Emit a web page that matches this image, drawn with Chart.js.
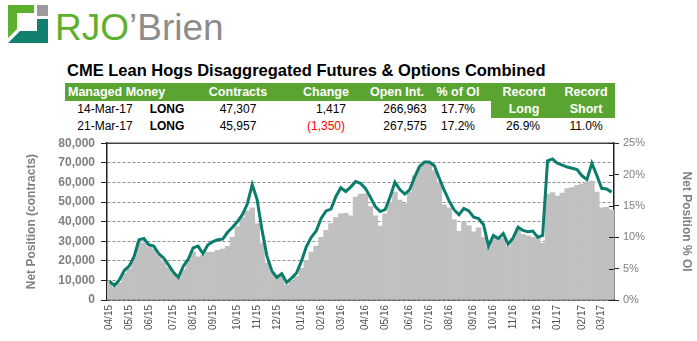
<!DOCTYPE html>
<html>
<head>
<meta charset="utf-8">
<script src="https://cdn.jsdelivr.net/npm/chart.js@4"></script>
<style>
  body { margin: 0; background: #fff; font-family: "Liberation Sans", Arial, sans-serif; }
  #page { position: relative; width: 697px; height: 341px; overflow: hidden; }
  .t { position: absolute; white-space: nowrap; transform: translate(-50%, -50%); font-size: 12px; color: #000; }
  .l { transform: translate(0, -50%); }
  .h { color: #fff; font-weight: bold; font-size: 12.5px; }
  .b { font-weight: bold; }
  #title { position: absolute; left: 67px; top: 61px; font-size: 16.5px; font-weight: bold; white-space: nowrap; }
  .green { position: absolute; background: #5aa532; }
  #chartBox { position: absolute; left: 0; top: 130px; }
</style>
</head>
<body>
<div id="page">
  <svg width="240" height="50" style="position:absolute;left:0;top:0">
    <path d="M8,5 H34 V13 H17 V29 L8,38 Z" fill="#5cb02c"/>
    <rect x="37" y="5" width="11" height="11" fill="#9b9b9b"/>
    <path d="M37,19 H48 V43 H8 L20,31 H37 Z" fill="#12806e"/>
    <text x="55" y="40" font-family="Liberation Sans, Arial" font-size="37" fill="#5cb02c">RJO<tspan fill="#8c8c8c">’Brien</tspan></text>
  </svg>

  <div id="title">CME Lean Hogs Disaggregated Futures &amp; Options Combined</div>

  <div class="green" style="left:65px;top:83px;width:550px;height:18px"></div>
  <div class="green" style="left:491px;top:83px;width:124px;height:35px"></div>

  <div class="t h l" style="left:68px;top:92px">Managed Money</div>
  <div class="t h" style="left:238px;top:92px">Contracts</div>
  <div class="t h" style="left:326px;top:92px">Change</div>
  <div class="t h" style="left:397px;top:92px">Open Int.</div>
  <div class="t h" style="left:458px;top:92px">% of OI</div>
  <div class="t h" style="left:524px;top:92px">Record</div>
  <div class="t h" style="left:524px;top:109px">Long</div>
  <div class="t h" style="left:586px;top:92px">Record</div>
  <div class="t h" style="left:586px;top:109px">Short</div>

  <div class="t" style="left:105px;top:109px">14-Mar-17</div>
  <div class="t b" style="left:167px;top:109px">LONG</div>
  <div class="t" style="left:238px;top:109px">47,307</div>
  <div class="t" style="left:331px;top:109px">1,417</div>
  <div class="t" style="left:405px;top:109px">266,963</div>
  <div class="t" style="left:458px;top:109px">17.7%</div>

  <div class="t" style="left:105px;top:126px">21-Mar-17</div>
  <div class="t b" style="left:167px;top:126px">LONG</div>
  <div class="t" style="left:238px;top:126px">45,957</div>
  <div class="t" style="left:326px;top:126px;color:#ff0000">(1,350)</div>
  <div class="t" style="left:405px;top:126px">267,575</div>
  <div class="t" style="left:458px;top:126px">17.2%</div>
  <div class="t" style="left:523px;top:126px">26.9%</div>
  <div class="t" style="left:586px;top:126px">11.0%</div>

  <div id="chartBox"><canvas id="myChart" width="697" height="211"></canvas></div>
</div>

<script>
// weekly report dates (Tuesdays), 07-Apr-15 .. 21-Mar-17
const weeks = [
  '2015-04-07','2015-04-14','2015-04-21','2015-04-28','2015-05-05','2015-05-12','2015-05-19','2015-05-26',
  '2015-06-02','2015-06-09','2015-06-16','2015-06-23','2015-06-30','2015-07-07','2015-07-14','2015-07-21',
  '2015-07-28','2015-08-04','2015-08-11','2015-08-18','2015-08-25','2015-09-01','2015-09-08','2015-09-15',
  '2015-09-22','2015-09-29','2015-10-06','2015-10-13','2015-10-20','2015-10-27','2015-11-03','2015-11-10',
  '2015-11-17','2015-11-24','2015-12-01','2015-12-08','2015-12-15','2015-12-22','2015-12-29','2016-01-05',
  '2016-01-12','2016-01-19','2016-01-26','2016-02-02','2016-02-09','2016-02-16','2016-02-23','2016-03-01',
  '2016-03-08','2016-03-15','2016-03-22','2016-03-29','2016-04-05','2016-04-12','2016-04-19','2016-04-26',
  '2016-05-03','2016-05-10','2016-05-17','2016-05-24','2016-05-31','2016-06-07','2016-06-14','2016-06-21',
  '2016-06-28','2016-07-05','2016-07-12','2016-07-19','2016-07-26','2016-08-02','2016-08-09','2016-08-16',
  '2016-08-23','2016-08-30','2016-09-06','2016-09-13','2016-09-20','2016-09-27','2016-10-04','2016-10-11',
  '2016-10-18','2016-10-25','2016-11-01','2016-11-08','2016-11-15','2016-11-22','2016-11-29','2016-12-06',
  '2016-12-13','2016-12-20','2016-12-27','2017-01-03','2017-01-10','2017-01-17','2017-01-24','2017-01-31',
  '2017-02-07','2017-02-14','2017-02-21','2017-02-28','2017-03-07','2017-03-14','2017-03-21'
];

// managed money net position (contracts)
const netPosition = [
  8500, 6300, 8800, 13500, 16000, 21500, 29500, 29000, 27000, 26000,
  23000, 19500, 16500, 13500, 11200, 15500, 20000, 24500, 22000, 22800,
  24300, 24500, 25300, 26000, 27500, 32000, 37500, 42000, 45500, 47000,
  39000, 29000, 19000, 14000, 12000, 12500, 7800, 9500, 12000, 16200,
  20300, 24500, 27500, 32000, 35500, 39000, 42000, 44000, 44200, 43000,
  52500, 54000, 54200, 47700, 43000, 37700, 44000, 50000, 55000, 51000,
  49200, 55000, 63500, 67500, 69300, 70000, 66000, 60000, 48500, 47000,
  41000, 35000, 39800, 38000, 34800, 36800, 32000, 27000, 31800, 31000,
  31500, 27300, 31500, 36500, 33500, 32700, 32000, 31500, 29000, 54000,
  54800, 53000, 54500, 56800, 57300, 58500, 59300, 60200, 60700, 55000,
  47000, 47307, 45957
];

// net position as % of open interest
const pctOfOI = [
  3.0, 2.3, 3.2, 4.7, 5.4, 6.9, 9.6, 9.8, 8.8, 8.6,
  7.4, 6.7, 5.6, 4.4, 3.6, 5.4, 6.5, 8.3, 8.6, 7.4,
  8.8, 9.3, 9.6, 9.7, 10.8, 11.6, 12.5, 13.6, 15.3, 18.4,
  16.0, 11.1, 7.0, 4.6, 3.6, 4.2, 2.8, 3.5, 4.3, 6.2,
  8.5, 10.0, 11.0, 13.0, 14.2, 14.5, 16.5, 17.9, 17.3, 18.0,
  18.9, 18.6, 17.8, 16.4, 14.9, 14.1, 14.4, 16.4, 18.8, 17.6,
  16.9, 17.6, 19.6, 21.3, 22.0, 22.0, 21.4, 19.4, 17.5, 15.8,
  14.4, 13.6, 14.6, 14.2, 13.2, 13.0, 12.0, 8.6, 10.3, 9.8,
  10.6, 8.9, 9.9, 11.6, 11.1, 10.9, 11.0, 10.0, 10.3, 22.2,
  22.5, 21.8, 21.5, 21.2, 21.0, 20.8, 19.8, 19.2, 21.8, 19.9,
  17.8, 17.7, 17.2
];

const leftTicks = [0, 10000, 20000, 30000, 40000, 50000, 60000, 70000, 80000];
const rightTicks = [0, 5, 10, 15, 20, 25];

(() => {
    const font = '"Liberation Sans", Arial, sans-serif';
    const axisGray = '#808080';

    let monthLabel = i => {
        let d = weeks[i].split('-');
        if (i > 0 && weeks[i - 1].split('-')[1] === d[1]) return '';
        return d[1] + '/' + d[0].slice(2);
    };

    let frame = {
        id: 'frame',
        afterDatasetsDraw(chart) {
            let {ctx, chartArea: a} = chart;
            ctx.save();
            ctx.strokeStyle = '#404040';
            ctx.lineWidth = 1.5;
            ctx.beginPath();
            ctx.moveTo(a.left, a.top);
            ctx.lineTo(a.right, a.top);
            ctx.stroke();
            // right axis ticks cross the axis line
            let s = chart.scales.y1;
            ctx.lineWidth = 1;
            ctx.strokeStyle = '#202020';
            s.ticks.forEach(t => {
                let y = Math.round(s.getPixelForValue(t.value)) + 0.5;
                ctx.beginPath();
                ctx.moveTo(a.right - 5, y);
                ctx.lineTo(a.right, y);
                ctx.stroke();
            });
            ctx.restore();
        }
    };

    let ctx = document.getElementById('myChart');
    new Chart(ctx, {
        data: {
            labels: weeks,
            datasets: [{
                    type: 'line',
                    label: '% of OI',
                    data: pctOfOI,
                    yAxisID: 'y1',
                    borderColor: '#0b7d6c',
                    borderWidth: 3,
                    pointRadius: 0,
                    tension: 0,
                    order: 0
                },
                {
                    type: 'bar',
                    label: 'Net Position',
                    data: netPosition,
                    yAxisID: 'y',
                    backgroundColor: '#c0c0c0',
                    barPercentage: 1,
                    categoryPercentage: 1,
                    order: 1
                }
            ]
        },
        options: {
            responsive: false,
            animation: false,
            layout: {padding: {top: 10, left: 0, right: 0, bottom: 0}},
            plugins: {legend: {display: false}, tooltip: {enabled: false}},
            scales: {
                x: {
                    offset: true,
                    grid: {display: false, drawTicks: false},
                    border: {display: true, color: '#303030', width: 1.5},
                    ticks: {
                        autoSkip: false, maxRotation: 90, minRotation: 90, padding: 5,
                        color: '#505050', font: {family: font, size: 10},
                        callback: (v, i) => monthLabel(i)
                    },
                    afterFit: s => { s.height = 41; }
                },
                y: {
                    position: 'left',
                    min: 0, max: 80000,
                    afterBuildTicks: s => { s.ticks = leftTicks.map(v => ({value: v})); },
                    grid: {color: '#8c8c8c', lineWidth: 1, tickLength: 6, tickColor: '#202020', tickWidth: 1},
                    border: {display: true, color: '#202020', width: 1.5, dash: [3, 2]},
                    ticks: {
                        padding: 6, color: axisGray, font: {family: font, size: 12, weight: 'bold'},
                        callback: v => v.toLocaleString('en-US')
                    },
                    title: {
                        display: true, text: 'Net Position (contracts)', color: axisGray,
                        font: {family: font, size: 12, weight: 'bold'}, padding: {top: 24, bottom: 0}
                    },
                    afterFit: s => { s.width = 107; }
                },
                y1: {
                    position: 'right',
                    min: 0, max: 25,
                    afterBuildTicks: s => { s.ticks = rightTicks.map(v => ({value: v})); },
                    grid: {drawOnChartArea: false, tickLength: 5, tickColor: '#202020', tickWidth: 1},
                    border: {display: true, color: '#202020', width: 1.5},
                    ticks: {
                        padding: 4, color: axisGray, font: {family: font, size: 11},
                        callback: v => v + '%'
                    },
                    title: {
                        display: true, text: 'Net Position % OI', color: axisGray,
                        font: {family: font, size: 12, weight: 'bold'}, padding: {top: 3, bottom: 0}
                    },
                    afterFit: s => { s.width = 83; }
                }
            }
        },
        plugins: [frame]
    });
})();
</script>
</body>
</html>
